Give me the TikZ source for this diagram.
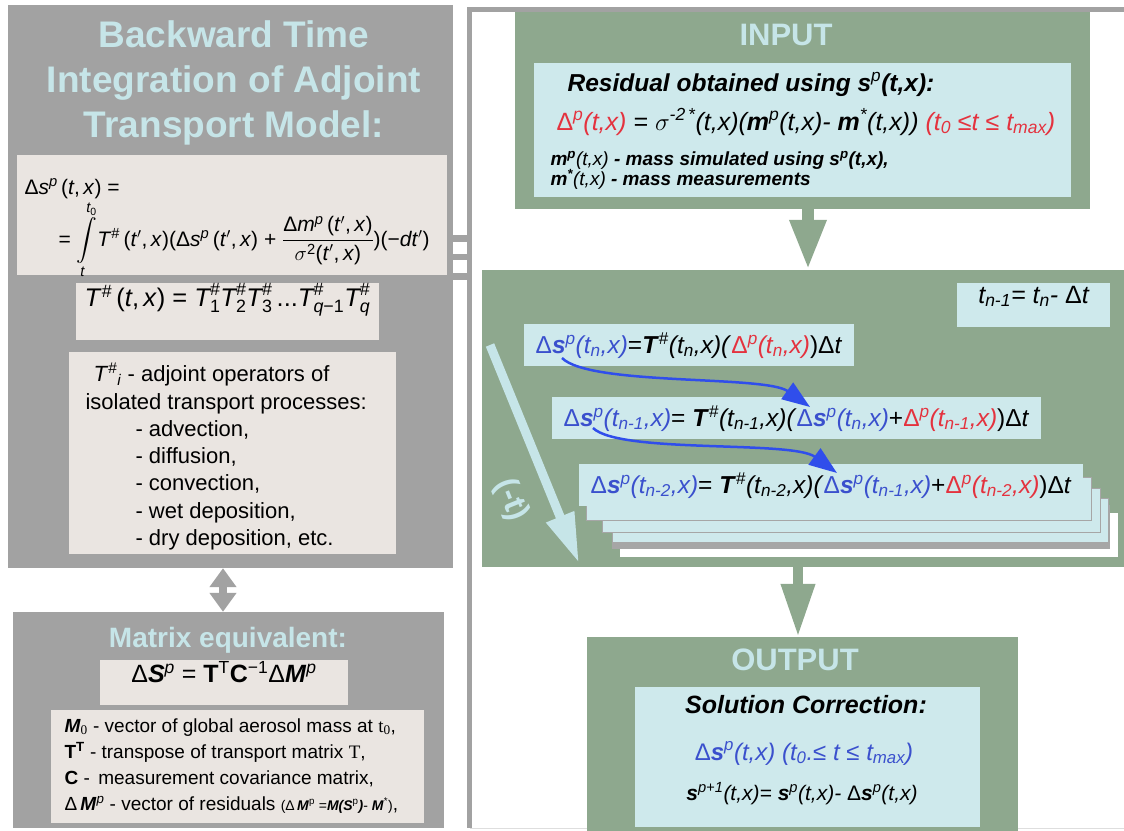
\documentclass[tikz,border=0pt]{standalone}
\usepackage{fontspec}
\usepackage{amsmath}
\setmainfont{Liberation Sans}
\newfontfamily\romanfont{Liberation Serif}
\usetikzlibrary{positioning,fit,arrows.meta}

\definecolor{panelgrey}{RGB}{162,162,162}
\definecolor{paper}{RGB}{234,229,225}
\definecolor{titlecyan}{RGB}{198,229,232}
\definecolor{sage}{RGB}{142,168,142}
\definecolor{pale}{RGB}{206,233,236}
\definecolor{inkblue}{RGB}{58,80,205}
\definecolor{inkred}{RGB}{228,50,62}
\definecolor{arrowblue}{RGB}{48,78,235}

\newcommand{\mi}[1]{\textit{#1}}
\newcommand{\bi}[1]{\textbf{\textit{#1}}}
\newcommand{\tsup}[1]{\textsuperscript{#1}}
\newcommand{\tsub}[1]{\textsubscript{#1}}
\newcommand{\fsz}[1]{\fontsize{#1}{#1}\selectfont}

\begin{document}
\begin{tikzpicture}[
    x=1pt, y=-1pt,
    panel/.style={fill=panelgrey, inner sep=0pt},
    sheet/.style={fill=paper, inner sep=0pt},
    greenbox/.style={fill=sage, inner sep=0pt},
    palebox/.style={fill=pale, inner sep=0pt},
    rowbox/.style={fill=pale, anchor=north west, inner xsep=11.5pt, minimum height=42pt, font=\fsz{24.5}},
    layer/.style={fill=pale, draw=black!35, line width=0.6pt},
    heading/.style={text=titlecyan, font=\bfseries\fsz{31}},
    flow/.style={sage, -{Triangle[width=34pt, length=50pt]}},
    loopstep/.style={arrowblue, line width=2.5pt, -{Triangle[width=20pt, length=28pt]}},
    tie/.style={panelgrey, line width=6.5pt}
]
    \useasboundingbox (0,0) rectangle (1124,830);
    \clip (0,0) rectangle (1124,830);

    % Frame round the iteration loop
    \node[fit={(470,10) (1140,828)}, inner sep=0pt] (loop) {};
    \draw[panelgrey, line width=5pt] (loop.north east) -- (loop.north west) -- (loop.south west);
    \draw[panelgrey!35, line width=1pt] (loop.south west) -- (loop.south east);

    % Adjoint transport model panel
    \node[panel, fit={(8,5) (453,568)}] (adjpanel) {};
    \node[heading, font=\bfseries\fontsize{37}{45}\selectfont, align=center] (adjtitle) at (234,83)
        {Backward Time\\Integration of Adjoint\\Transport Model:};

    % Backward integral
    \node[sheet, fit={(17,155) (447,275)}] (adjformula) {};
    \node[anchor=base west, font=\fsz{21}] (dsline) at (21,194)
        {Δ\mi{s}\tsup{\mi{p}}\,(\mi{t},\,\mi{x}) =};
    \node[anchor=base west, font=\fsz{21}] (intline) at (55,246)
        {= $\displaystyle\int\limits_{\mi{t}}^{\mi{t}_{\text{0}}}$\mi{T}\tsup{\#}\,(\mi{t}$'$,\,\mi{x})(Δ\mi{s}\tsup{\mi{p}}\,(\mi{t}$'$,\,\mi{x}) + $\dfrac{\text{Δ\mi{m}\tsup{\mi{p}}\,(\mi{t}$'$,\,\mi{x})}}{\sigma^{\text{2}}\text{(\mi{t}$'$,\,\mi{x})}}$)(−\mi{dt}$'$)};

    % Product of the operators
    \node[sheet, fit={(76,283) (379,340)}, font=\fsz{25.5}] (tprod)
        {\mi{T}\tsup{\#}\,(\mi{t},\,\mi{x}) = $\mi{T}^{\text{\#}}_{\text{1}}\mi{T}^{\text{\#}}_{\text{2}}\mi{T}^{\text{\#}}_{\text{3}}$\,...$\mi{T}^{\text{\#}}_{\mi{q}\text{−1}}\mi{T}^{\text{\#}}_{\mi{q}}$};

    % Isolated processes
    \node[sheet, fit={(69,352) (396,554)}] (opbox) {};
    \node[anchor=base west, font=\fsz{22}] (opline1) at (90,381) {\mi{T}\tsup{\#}\tsub{\mi{i}} - adjoint operators of};
    \node[anchor=base west, font=\fsz{22}] (opline2) at (82,409) {isolated transport processes:};
    \foreach \proc [count=\k] in {{advection,},{diffusion,},{convection,},{wet deposition,},{dry deposition, etc.}}
        \node[anchor=base west, font=\fsz{22}] (proc\k) at (132,{409+27.3*\k}) {- \proc};

    % Matrix equivalent panel
    \node[panel, fit={(13,612) (444,828)}] (matpanel) {};
    \node[heading, font=\bfseries\fsz{28}, anchor=base] (mattitle) at (228,647) {Matrix equivalent:};
    \node[sheet, fit={(100,660) (348,705)}, font=\fsz{25}] (matformula)
        {Δ\bi{S}\tsup{\mi{p}} = \textbf{T}\tsup{T}\textbf{C}\tsup{−1}Δ\bi{M}\tsup{\mi{p}}};
    \node[sheet, fit={(51,710) (424,823)}] (matlegend) {};
    \node[anchor=base west, font=\fsz{19}] (leg1) at (61,732) {\bi{M}\tsub{\romanfont 0} - vector of global aerosol mass at {\romanfont t\tsub{0}},};
    \node[anchor=base west, font=\fsz{19}] (leg2) at (61,758) {\textbf{T}\tsup{\textbf{T}} - transpose of transport matrix {\romanfont T},};
    \node[anchor=base west, font=\fsz{19}] (leg3) at (61,784) {\textbf{C} -\, measurement covariance matrix,};
    \node[anchor=base west, font=\fsz{19}] (leg4) at (61,810)
        {Δ\,\bi{M}\tsup{\mi{p}} - vector of residuals {\fsz{14}(Δ\,\bi{M}\tsup{p} =\bi{M(S}\tsup{p}\bi{)}- \bi{M}\tsup{*})},};

    % Double arrow between the two forms
    \draw[panelgrey, line width=8pt, {Triangle[width=26pt, length=19pt]}-{Triangle[width=26pt, length=19pt]}]
        (adjpanel.south -| 223,0) -- (matpanel.north -| 223,0);

    % Ties from the panel to the loop frame
    \foreach \yy in {238.5,257,276.5}
        \draw[tie] (adjpanel.east |- 0,\yy) -- (loop.west |- 0,\yy);

    % INPUT block
    \node[greenbox, fit={(515,12) (1090,209)}] (inputbox) {};
    \node[heading, anchor=base] (inputhead) at (786,45) {INPUT};
    \node[palebox, fit={(534,63) (1071,197)}] (inputnote) {};
    \node[anchor=base, font=\bfseries\itshape\fsz{24.5}] (residual) at (751,91)
        {Residual obtained using s\tsup{\mdseries p}(t,x):};
    \node[anchor=base west, font=\itshape\fsz{25}] (residualeq) at (553,130)
        {{\color{inkred}\textup{Δ}\tsup{p}(t,x)} = $\sigma$\tsup{-2\,*}(t,x)(\textbf{m}\tsup{p}(t,x)- \textbf{m}\tsup{*}(t,x)) {\color{inkred}(t\tsub{0} ≤t ≤ t\tsub{max})}};
    \node[anchor=base west, font=\bfseries\itshape\fsz{19}] (mpline) at (547,165)
        {m\tsup{p}{\mdseries(t,x)} - mass simulated using s\tsup{p}(t,x),};
    \node[anchor=base west, font=\bfseries\itshape\fsz{19}] (mstarline) at (547,185)
        {m\tsup{*}{\mdseries(t,x)} - mass measurements};

    % Iteration block
    \node[greenbox, fit={(482,270) (1130,567)}] (iterbox) {};
    \node[palebox, fit={(957,283) (1110,327)}, font=\itshape\fsz{25}] (tstep)
        {t\tsub{n-1}= t\tsub{n}- \textup{Δ}t};

    % Input feeds the iteration
    \draw[flow, line width=12pt] (inputbox.south -| 808,0) -- (iterbox.north -| 808,0);

    % Sheets stacked under the last row
    \fill[white] (620,513) rectangle (1118,557);
    \fill[black!35] (612,505) rectangle (1110,549);
    \foreach \xa/\ya/\xb/\yb in {612/498/1108/542, 602/488/1100/532, 586/477/1091/520}
        \draw[layer] (\xa,\ya) rectangle (\xb,\yb);

    % Backward time arrow
    \coordinate (timetop) at (490,345);
    \coordinate (timebottom) at (579,563);
    \draw[titlecyan, line width=9pt, -{Triangle[width=28pt, length=50pt]}] (timetop) -- (timebottom);
    \node[text=titlecyan, font=\bfseries\fsz{32}, rotate=-68] (timelabel) at (511,500) {(-t)};

    % Recursion rows
    \node[rowbox] (row1) at (524,324)
        {{\color{inkblue}Δ\bi{s}\tsup{\mi{p}}\mi{(t\tsub{n},x)}}=\bi{T}\tsup{\#}\mi{(t\tsub{n},x)(}{\color{inkred}Δ\tsup{\mi{p}}\mi{(t\tsub{n},x)}})Δ\mi{t}};
    \node[rowbox] (row2) at (552,397)
        {{\color{inkblue}Δ\bi{s}\tsup{\mi{p}}\mi{(t\tsub{n-1},x)}}= \bi{T}\tsup{\#}\mi{(t\tsub{n-1},x)(}{\color{inkblue}Δ\bi{s}\tsup{\mi{p}}\mi{(t\tsub{n},x)}}+{\color{inkred}Δ\tsup{\mi{p}}\mi{(t\tsub{n-1},x)}})Δ\mi{t}};
    \node[rowbox] (row3) at (579,464)
        {{\color{inkblue}Δ\bi{s}\tsup{\mi{p}}\mi{(t\tsub{n-2},x)}}= \bi{T}\tsup{\#}\mi{(t\tsub{n-2},x)(}{\color{inkblue}Δ\bi{s}\tsup{\mi{p}}\mi{(t\tsub{n-1},x)}}+{\color{inkred}Δ\tsup{\mi{p}}\mi{(t\tsub{n-2},x)}})Δ\mi{t}};

    % Each step carries the last correction
    \coordinate (from1) at (562,358);
    \coordinate (to1) at (810,407);
    \draw[loopstep] (from1) .. controls (590,386) and (765,375) .. (to1);
    \coordinate (from2) at (593,428);
    \coordinate (to2) at (837,473);
    \draw[loopstep] (from2) .. controls (620,454) and (792,440) .. (to2);

    % OUTPUT block
    \node[greenbox, fit={(587,637) (1018,835)}] (outputbox) {};
    \node[heading, anchor=base] (outputhead) at (795,670) {OUTPUT};
    \node[palebox, fit={(635,687) (980,827)}] (outputnote) {};
    \node[anchor=base, font=\bfseries\itshape\fsz{25}] (solution) at (806,713) {Solution Correction:};
    \node[anchor=base, font=\itshape\fsz{24}, text=inkblue] (correction) at (804,760)
        {\textup{Δ}\textbf{s}\tsup{p}(t,x) (t\tsub{0}.≤ t ≤ t\tsub{max})};
    \node[anchor=base, font=\itshape\fsz{21}] (update) at (802,800)
        {\textbf{s}\tsup{p+1}(t,x)= \textbf{s}\tsup{p}(t,x)- \textup{Δ}\textbf{s}\tsup{p}(t,x)};

    % Iteration gives the output
    \draw[flow, line width=10pt, -{Triangle[width=32pt, length=53pt]}] (iterbox.south -| 798,0) -- (outputbox.north -| 798,0);

\end{tikzpicture}
\end{document}
